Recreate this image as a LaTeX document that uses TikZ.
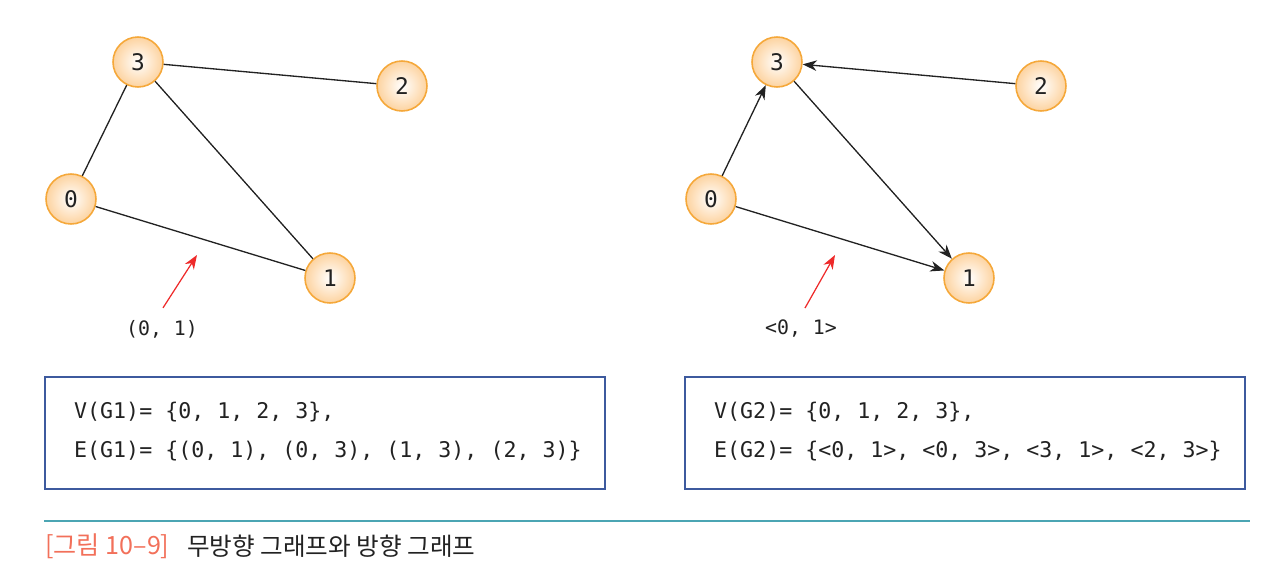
\documentclass[tikz,border=0pt]{standalone}
\usepackage{fontspec}
\setmonofont{DejaVu Sans Mono}
\newfontfamily\krfont{Noto Sans CJK KR}
\usetikzlibrary{%
  arrows,%
  arrows.meta,%
  calc%
}
\definecolor{vborder}{HTML}{F5A83A}
\definecolor{vfill}{HTML}{FDD3A0}
\definecolor{boxblue}{HTML}{3D5A9E}
\definecolor{labred}{HTML}{EE2A2A}
\definecolor{capteal}{HTML}{4BA5B3}
\definecolor{capred}{HTML}{F2705A}
\definecolor{txt}{HTML}{222222}
\tikzset{>={Stealth[length=8pt,width=6pt,inset=2.5pt]}}
\tikzset{
  vertex/.style={circle,draw=vborder,line width=0.9pt,inner color=white,
    outer color=vfill,minimum size=1cm,inner sep=0pt,
    font=\ttfamily\fontsize{13}{13}\selectfont,text=txt},
  edge/.style={draw=txt,line width=0.75pt},
  setbox/.style={draw=boxblue,line width=0.8pt},
  settext/.style={anchor=west,font=\ttfamily\fontsize{12.3}{12.3}\selectfont,text=txt},
  pointer/.style={draw=labred,line width=0.7pt,->}
}

\begin{document}
\begin{tikzpicture}[x=0.02cm,y=-0.02cm]
    \useasboundingbox (0,0) rectangle (1286,578);
    % undirected graph G1
    \node[vertex] (a3) at (138,62) {3};
    \node[vertex] (a2) at (402,86) {2};
    \node[vertex] (a0) at (71,199) {0};
    \node[vertex] (a1) at (330,278) {1};
    \draw[edge] (a0) -- (a3);
    \draw[edge] (a3) -- (a2);
    \draw[edge] (a3) -- (a1);
    \draw[edge] (a0) -- (a1);
    \node[font=\ttfamily\fontsize{11.3}{11.3}\selectfont,text=txt] (labA) at (162,329) {(0, 1)};
    \coordinate (tipA) at (197,255);
    \draw[pointer] ($(labA.north)+(1,-6)$) -- (tipA);
    % directed graph G2
    \node[vertex] (b3) at (777,62) {3};
    \node[vertex] (b2) at (1041,86) {2};
    \node[vertex] (b0) at (711,199) {0};
    \node[vertex] (b1) at (969,278) {1};
    \draw[edge,->] (b0) -- (b3);
    \draw[edge,->] (b2) -- (b3);
    \draw[edge,->] (b3) -- (b1);
    \draw[edge,->] (b0) -- (b1);
    \node[font=\ttfamily\fontsize{11.3}{11.3}\selectfont,text=txt] (labB) at (801,329) {<0, 1>};
    \coordinate (tipB) at (835,255);
    \draw[pointer] ($(labB.north)+(4,-6)$) -- (tipB);
    % vertex and edge sets
    \draw[setbox] (45,377) rectangle (605,489);
    \node[settext] (vA) at (68,412) {V(G1)= \{0, 1, 2, 3\},};
    \node[settext] (eA) at (68,451) {E(G1)= \{(0, 1), (0, 3), (1, 3), (2, 3)\}};
    \draw[setbox] (685,377) rectangle (1245,489);
    \node[settext] (vB) at (708,412) {V(G2)= \{0, 1, 2, 3\},};
    \node[settext] (eB) at (708,451) {E(G2)= \{<0, 1>, <0, 3>, <3, 1>, <2, 3>\}};
    % caption
    \draw[capteal,line width=0.8pt] (44,521) -- (1250,521);
    \node[anchor=west,inner sep=0pt,font=\krfont\fontsize{14.3}{14.3}\selectfont,text=capred] (capno) at (45,546) {[그림 10–9]};
    \node[anchor=west,inner sep=0pt,font=\krfont\fontsize{14}{14}\selectfont,text=txt] (captxt) at ($(capno.east)+(17,0)$) {무방향 그래프와 방향 그래프};
  \end{tikzpicture}
\end{document}
